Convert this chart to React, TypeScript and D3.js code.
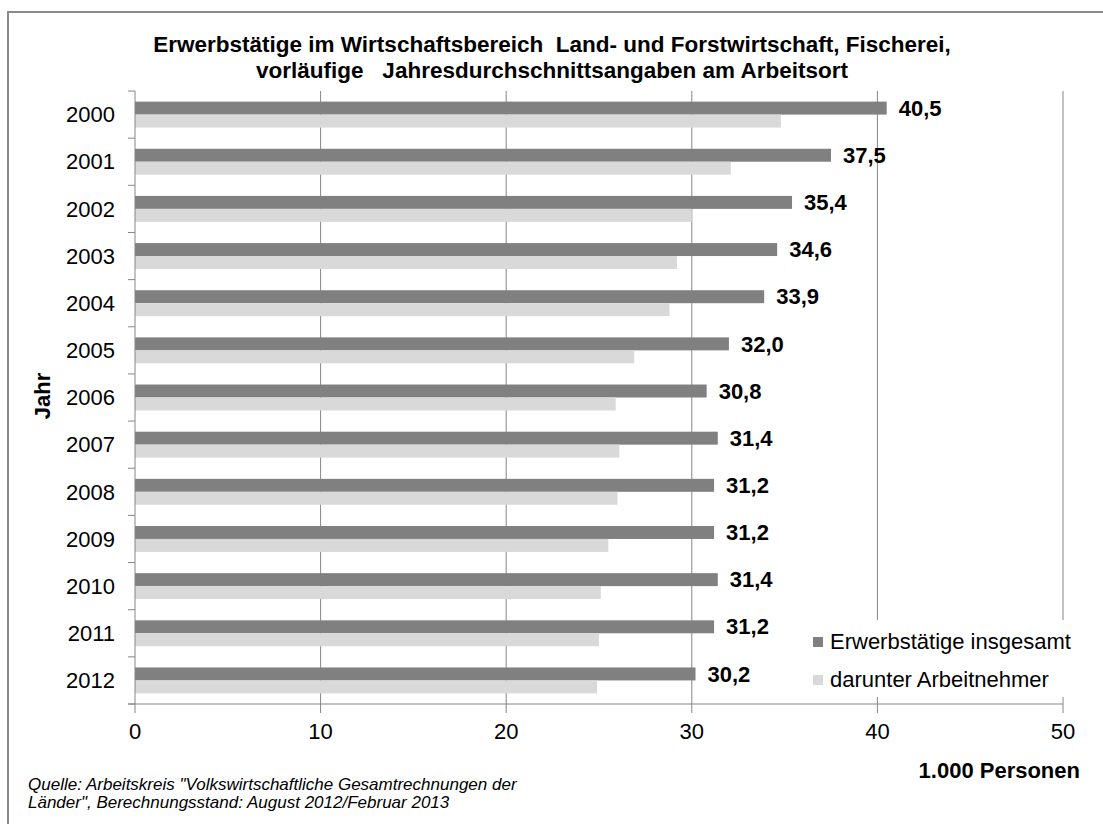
import React from "react";
import * as d3 from "d3";

const years = ["2000","2001","2002","2003","2004","2005","2006","2007","2008","2009","2010","2011","2012"];
const totalValues = [40.5, 37.5, 35.4, 34.6, 33.9, 32.0, 30.8, 31.4, 31.2, 31.2, 31.4, 31.2, 30.2];
const employeeValues = [34.8, 32.1, 30.0, 29.2, 28.8, 26.9, 25.9, 26.1, 26.0, 25.5, 25.1, 25.0, 24.9];
const xTicks = [0, 10, 20, 30, 40, 50];
const seriesNames = ["Erwerbstätige insgesamt", "darunter Arbeitnehmer"];
const titleLines = [
  "Erwerbstätige im Wirtschaftsbereich  Land- und Forstwirtschaft, Fischerei,",
  "vorläufige   Jahresdurchschnittsangaben am Arbeitsort",
];
const sourceLines = [
  "Quelle: Arbeitskreis \"Volkswirtschaftliche Gesamtrechnungen der",
  "Länder\", Berechnungsstand: August 2012/Februar 2013",
];

const W = 1103, H = 824;
const left = 135, right = 1063, top = 91, bottom = 704;
const dark = "#808080", light = "#d9d9d9", gridC = "#868686";
const font = "'Liberation Sans', Arial, sans-serif";

export default function App() {
  const x = d3.scaleLinear().domain([0, 50]).range([left, right]);
  const y = d3.scaleBand().domain(years).range([top, bottom]).paddingInner(0.45).paddingOuter(0.225);
  const bh = y.bandwidth() / 2;
  const fmt = (v: number) => d3.format(".1f")(v).replace(".", ",");
  const step = y.step();

  return (
    <svg width={W} height={H} style={{ position: "absolute", left: 0, top: 0, background: "#fff" }} fontFamily={font}>
      <rect x={0} y={0} width={W} height={H} fill="#fff" />
      <rect x={8} y={12} width={W + 10} height={H + 10} fill="#fff" stroke="#8a8a8a" strokeWidth={2} />
      {titleLines.map((t, i) => (
        <text key={i} x={552} y={52 + i * 26} textAnchor="middle" fontSize={22.5} fontWeight="bold" fill="#000" style={{ whiteSpace: "pre" }}>{t}</text>
      ))}
      {/* gridlines */}
      {xTicks.filter(t => t > 0).map(t => (
        <line key={t} x1={x(t)} x2={x(t)} y1={top} y2={bottom} stroke={gridC} strokeWidth={1} />
      ))}
      {/* bars */}
      {years.map((yr, i) => (
        <g key={yr}>
          <rect x={x(0)} y={y(yr)!} width={x(totalValues[i]) - x(0)} height={bh} fill={dark} />
          <rect x={x(0)} y={y(yr)! + bh} width={x(employeeValues[i]) - x(0)} height={bh} fill={light} />
          <text x={x(totalValues[i]) + 12} y={y(yr)! + bh / 2} dy="0.35em" fontSize={22} fontWeight="bold" fill="#000">{fmt(totalValues[i])}</text>
          <text x={115} y={y(yr)! + bh} dy="0.35em" textAnchor="end" fontSize={22} fill="#000">{yr}</text>
        </g>
      ))}
      {/* y axis */}
      <line x1={left} x2={left} y1={top} y2={bottom} stroke={gridC} />
      {d3.range(years.length + 1).map(k => (
        <line key={k} x1={left - 7} x2={left} y1={top + k * step} y2={top + k * step} stroke={gridC} />
      ))}
      {/* x axis */}
      <line x1={left - 7} x2={right} y1={bottom} y2={bottom} stroke={gridC} />
      {xTicks.map(t => (
        <g key={t}>
          <line x1={x(t)} x2={x(t)} y1={bottom} y2={bottom + 9} stroke={gridC} />
          <text x={x(t)} y={731} dy="0.35em" textAnchor="middle" fontSize={22} fill="#000">{t}</text>
        </g>
      ))}
      <text x={1080} y={770} dy="0.35em" textAnchor="end" fontSize={22} fontWeight="bold" fill="#000">1.000 Personen</text>
      <text transform={`translate(42,396) rotate(-90)`} textAnchor="middle" dy="0.35em" fontSize={22} fontWeight="bold" fill="#000">Jahr</text>
      {/* legend */}
      <rect x={805} y={620} width={285} height={77} fill="#fff" />
      {seriesNames.map((s, i) => (
        <g key={s}>
          <rect x={813} y={637 + i * 38} width={10} height={10} fill={i === 0 ? dark : light} />
          <text x={830} y={641 + i * 38} dy="0.35em" fontSize={22} fill="#000">{s}</text>
        </g>
      ))}
      {sourceLines.map((t, i) => (
        <text key={i} x={28} y={790 + i * 18} fontSize={17} fontStyle="italic" fill="#000">{t}</text>
      ))}
    </svg>
  );
}
